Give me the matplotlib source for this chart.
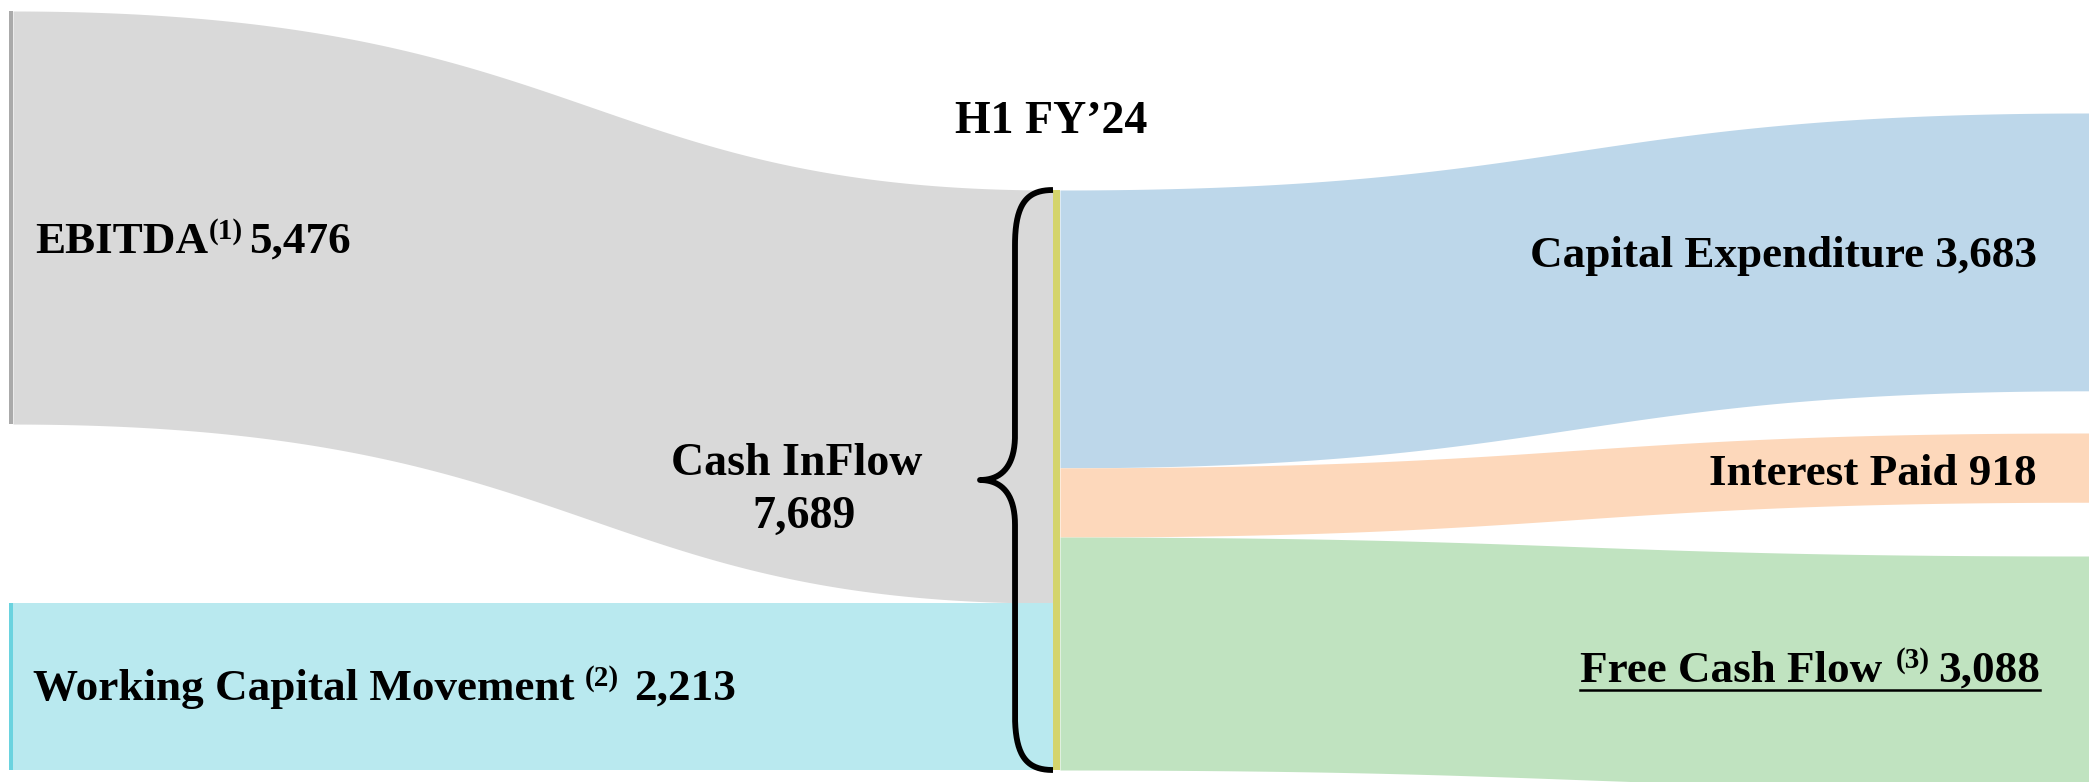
import matplotlib.pyplot as plt
import numpy as np

plt.rcParams['font.family'] = ['Liberation Serif', 'DejaVu Serif']

W, H = 2089, 782

# data
sources = ["EBITDA", "Working Capital Movement"]
source_values = [5476, 2213]
source_notes = ["(1)", "(2)"]
uses = ["Capital Expenditure", "Interest Paid", "Free Cash Flow"]
use_values = [3683, 918, 3088]
use_notes = ["", "", "(3)"]
total_label = "Cash InFlow"
total_value = 7689
period = "H1 FY\u201924"

# colours
src_colors = ["#d9d9d9", "#b9e9ef"]
src_bar_colors = ["#aaaaaa", "#6ad3df"]
use_colors = ["#bdd7ea", "#fdd8bb", "#c0e3c0"]
node_color = "#d4d46c"

# layout (pixels)
px_per_unit = 580 / total_value
left_x, mid_x0, mid_x1, right_x = 13, 1053, 1060, 2089
mid_top = 190
left_tops = [11, mid_top + source_values[0] * px_per_unit]
right_tops = [113, 433, 556]
FS, SUP = 32.5, 21

fig = plt.figure(figsize=(W / 100, H / 100), dpi=100)
ax = fig.add_axes([0, 0, 1, 1])
ax.set_xlim(0, W)
ax.set_ylim(H, 0)
ax.axis('off')


def band(x0, x1, y0, y1, h, color, k=0.5):
    t = np.linspace(0, 1, 300)
    xa = x0 + (x1 - x0) * k
    x = (1 - t)**3 * x0 + 3 * (1 - t)**2 * t * xa + 3 * (1 - t) * t**2 * xa + t**3 * x1
    s = 3 * (1 - t) * t**2 + t**3
    y = y0 + (y1 - y0) * s
    ax.fill_between(x, y, y + h, color=color, lw=0)


# left flows into the centre node
y = mid_top
for v, top, c, bc in zip(source_values, left_tops, src_colors, src_bar_colors):
    h = v * px_per_unit
    band(left_x, mid_x0, top, y, h, c, k=0.55)
    ax.fill_between([left_x - 4, left_x], top, top + h, color=bc, lw=0)
    y += h

# centre node to uses
y = mid_top
for v, top, c in zip(use_values, right_tops, use_colors):
    h = v * px_per_unit
    band(mid_x1, right_x, y, top, h, c)
    y += h

ax.fill_between([mid_x0, mid_x1], mid_top, mid_top + total_value * px_per_unit,
                color=node_color, lw=0)

# curly brace
bot = mid_top + total_value * px_per_unit
tip_y = (mid_top + bot) / 2
bx, tx = 1015, 980
t = np.linspace(0, 1, 60)


def bez(p0, p1, p2, p3):
    p0, p1, p2, p3 = map(np.array, (p0, p1, p2, p3))
    return ((1 - t)[:, None]**3 * p0 + 3 * ((1 - t)**2 * t)[:, None] * p1
            + 3 * ((1 - t) * t**2)[:, None] * p2 + (t**3)[:, None] * p3)


pts = np.vstack([
    bez((mid_x0, mid_top), (1028, mid_top), (bx, mid_top + 12), (bx, mid_top + 55)),
    bez((bx, tip_y - 45), (bx, tip_y - 12), (1000, tip_y), (tx, tip_y)),
    bez((tx, tip_y), (1000, tip_y), (bx, tip_y + 12), (bx, tip_y + 45)),
    bez((bx, bot - 55), (bx, bot - 12), (1028, bot), (mid_x0, bot)),
])
ax.plot(pts[:, 0], pts[:, 1], color='black', lw=4.2, solid_capstyle='butt')

renderer = fig.canvas.get_renderer()


def text_run(x, y, parts, align="left", underline=False):
    items = []
    for s, size, rise, gap in parts:
        tt = ax.text(0, y - rise, s, fontsize=size, fontweight='bold',
                     va='baseline', ha='left', color='black')
        w = tt.get_window_extent(renderer).width
        items.append((tt, w, gap))
    total = sum(w + g for _, w, g in items)
    cur = x if align == "left" else x - total
    start = cur
    for tt, w, g in items:
        cur += g
        tt.set_x(cur)
        cur += w
    if underline:
        ax.plot([start, cur], [y + 8, y + 8], color='black', lw=1.8)


def fmt(v):
    return f"{v:,}"


# source labels
text_run(35, 253, [(sources[0], FS, 0, 0), (source_notes[0], SUP, 14, 1),
                   (fmt(source_values[0]), FS, 0, 6)])
text_run(33, 700, [(sources[1], FS, 0, 0), (source_notes[1], SUP, 14, 10),
                   (fmt(source_values[1]), FS, 0, 16)])

# use labels
text_run(2037, 267, [(f"{uses[0]} {fmt(use_values[0])}", FS, 0, 0)], align="right")
text_run(2037, 485, [(f"{uses[1]} {fmt(use_values[1])}", FS, 0, 0)], align="right")
text_run(2040, 682, [(uses[2], FS, 0, 0), (use_notes[2], SUP, 14, 14),
                     (fmt(use_values[2]), FS, 0, 8)], align="right", underline=True)

# centre labels
ax.text(1051, 133, period, fontsize=33, fontweight='bold', ha='center', va='baseline')
ax.text(797, 475, total_label, fontsize=33, fontweight='bold', ha='center', va='baseline')
ax.text(804, 528, fmt(total_value), fontsize=33, fontweight='bold', ha='center', va='baseline')

fig.savefig("out.png", dpi=100)
